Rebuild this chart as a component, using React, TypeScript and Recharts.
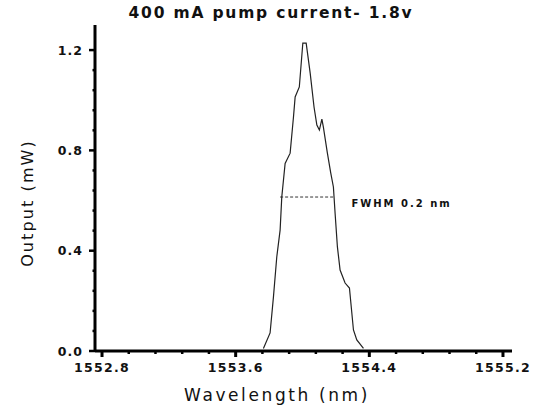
import { LineChart, Line, XAxis, YAxis, ReferenceLine } from "recharts";

const wavelength = [
  1553.766, 1553.806, 1553.826, 1553.846, 1553.866, 1553.876, 1553.896, 1553.926,
  1553.946, 1553.956, 1553.981, 1554.002, 1554.022, 1554.046, 1554.069, 1554.086,
  1554.101, 1554.116, 1554.125, 1554.149, 1554.169, 1554.185, 1554.195, 1554.209,
  1554.225, 1554.255, 1554.281, 1554.305, 1554.325, 1554.365,
];
const output = [
  0.01, 0.072, 0.215, 0.375, 0.482, 0.614, 0.748, 0.789,
  0.933, 1.013, 1.053, 1.228, 1.228, 1.108, 0.973, 0.901,
  0.881, 0.925, 0.893, 0.789, 0.71, 0.654, 0.55, 0.415,
  0.323, 0.271, 0.251, 0.084, 0.044, 0.01,
];
const xMajor = [1552.8, 1553.6, 1554.4, 1555.2];
const yMajor = [0, 0.4, 0.8, 1.2];
const fwhmEdges = [1553.866, 1554.185];
const fwhmLevel = 0.614;

const data = wavelength.map((w, i) => ({ w, p: output[i] }));

// 4 minor ticks between majors
const xTicks: number[] = [];
for (let i = 0; i < xMajor.length - 1; i++) {
  const step = (xMajor[i + 1] - xMajor[i]) / 5;
  for (let k = 0; k < 5; k++) xTicks.push(+(xMajor[i] + k * step).toFixed(3));
}
xTicks.push(xMajor[xMajor.length - 1]);
const yTicks: number[] = [];
for (let i = 0; i < yMajor.length - 1; i++) {
  const step = (yMajor[i + 1] - yMajor[i]) / 5;
  for (let k = 0; k < 5; k++) yTicks.push(+(yMajor[i] + k * step).toFixed(3));
}
yTicks.push(yMajor[yMajor.length - 1]);

const font = "'DejaVu Sans', sans-serif";

const XTick = (props: any) => {
  const { x, y, payload } = props;
  const major = xMajor.some((m) => Math.abs(m - payload.value) < 1e-6);
  return (
    <g>
      <line x1={x} x2={x} y1={y} y2={y + (major ? 6 : 3)} stroke="#000" strokeWidth={major ? 3 : 2.5} />
      {major && (
        <text x={x} y={y + 21} textAnchor="middle" fontFamily={font} fontWeight="bold" fontSize={12.5} letterSpacing={1.3} fill="#111">
          {payload.value.toFixed(1)}
        </text>
      )}
    </g>
  );
};

const YTick = (props: any) => {
  const { x, y, payload } = props;
  const major = yMajor.some((m) => Math.abs(m - payload.value) < 1e-6);
  return (
    <g>
      <line x1={x} x2={x - (major ? 6 : 2.5)} y1={y} y2={y} stroke="#000" strokeWidth={2.5} />
      {major && (
        <text x={x - 12} y={y + 4.5} textAnchor="end" fontFamily={font} fontWeight="bold" fontSize={12.5} letterSpacing={1} fill="#111">
          {payload.value.toFixed(1)}
        </text>
      )}
    </g>
  );
};

export default function App() {
  return (
    <div style={{ position: "absolute", left: 0, top: 0, width: 537, height: 415, background: "#fff" }}>
      <div
        style={{
          position: "absolute",
          left: 0,
          top: 4,
          width: 542,
          textAlign: "center",
          fontFamily: font,
          fontWeight: "bold",
          fontSize: 15.5,
          letterSpacing: 1.8,
          color: "#111",
        }}
      >
        400 mA pump current- 1.8v
      </div>
      <LineChart width={537} height={415} data={data} margin={{ top: 25, right: 25, bottom: 0, left: 0 }}>
        <XAxis
          dataKey="w"
          type="number"
          domain={[1552.758, 1555.254]}
          ticks={xTicks}
          interval={0}
          tick={<XTick />}
          tickLine={false}
          tickSize={0}
          tickMargin={0}
          height={64}
          axisLine={{ stroke: "#000", strokeWidth: 3 }}
          label={{
            content: () => (
              <text
                x={277}
                y={401}
                textAnchor="middle"
                fontFamily={font}
                fontSize={17}
                letterSpacing={2.6}
                fill="#111"
              >
                Wavelength (nm)
              </text>
            ),
          }}
        />
        <YAxis
          type="number"
          domain={[0, 1.3]}
          ticks={yTicks}
          interval={0}
          tick={<YTick />}
          tickLine={false}
          tickSize={0}
          tickMargin={0}
          width={95}
          axisLine={{ stroke: "#000", strokeWidth: 3 }}
          label={{
            content: () => (
              <text
                transform="translate(33, 203) rotate(-90)"
                textAnchor="middle"
                fontFamily={font}
                fontSize={16}
                letterSpacing={2.1}
                fill="#111"
              >
                Output (mW)
              </text>
            ),
          }}
        />
        <ReferenceLine
          segment={[
            { x: fwhmEdges[0], y: fwhmLevel },
            { x: fwhmEdges[1], y: fwhmLevel },
          ]}
          stroke="#333"
          strokeDasharray="3 2"
          strokeWidth={1}
          label={{
            content: (p: any) => {
              const vb = p.viewBox || {};
              return (
                <text
                  x={(vb.x ?? 0) + (vb.width ?? 0) + 18}
                  y={(vb.y ?? 0) + 10}
                  fontFamily={font}
                  fontWeight="bold"
                  fontSize={10}
                  letterSpacing={2}
                  fill="#111"
                >
                  FWHM 0.2 nm
                </text>
              );
            },
          }}
        />
        <Line
          dataKey="p"
          type="linear"
          stroke="#222"
          strokeWidth={1.2}
          dot={false}
          isAnimationActive={false}
        />
      </LineChart>
    </div>
  );
}
